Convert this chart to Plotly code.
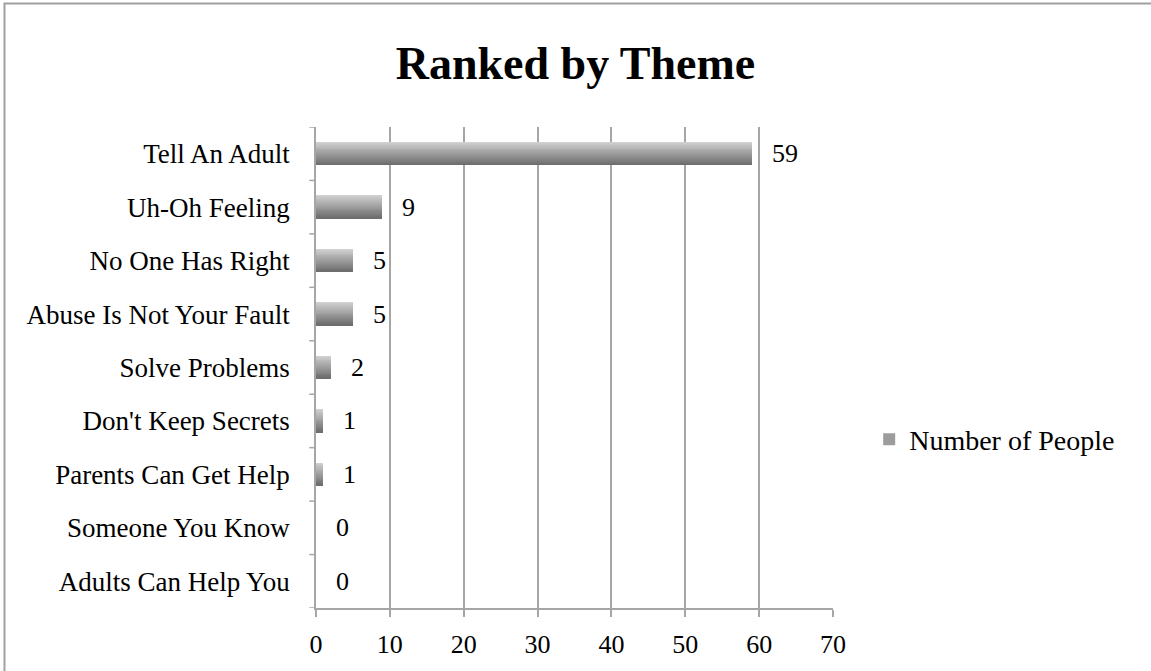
import plotly.graph_objects as go

categories = ["Tell An Adult", "Uh-Oh Feeling", "No One Has Right", "Abuse Is Not Your Fault",
              "Solve Problems", "Don't Keep Secrets", "Parents Can Get Help",
              "Someone You Know", "Adults Can Help You"]
values = [59, 9, 5, 5, 2, 1, 1, 0, 0]
series_name = "Number of People"
x_ticks = [0, 10, 20, 30, 40, 50, 60, 70]

FONT = "Liberation Serif"
W, H = 1151, 671
L, R, T, B = 316, 318, 127, 63
PW, PH = W - L - R, H - T - B

fig = go.Figure()

# gradient bands to imitate shaded bars
n = 24
bar_w = 0.42
light = (208, 208, 208)
dark = (110, 110, 110)
for i in range(n):
    t = i / (n - 1)
    c = tuple(int(light[k] + (dark[k] - light[k]) * t) for k in range(3))
    col = "rgb(%d,%d,%d)" % c
    fig.add_trace(go.Bar(
        x=values, y=list(range(len(categories))), orientation="h",
        width=bar_w / n * 1.05, offset=-bar_w / 2 + i * bar_w / n,
        marker=dict(color=col, line=dict(width=0)),
        name=series_name, showlegend=(i == n // 2), hoverinfo="skip",
    ))

for i, v in enumerate(values):
    fig.add_annotation(x=v, y=i, text=str(v), showarrow=False, xanchor="left",
                       xshift=18, font=dict(family=FONT, size=26, color="black"))

fig.update_layout(
    width=W, height=H,
    margin=dict(l=L, r=R, t=T, b=B),
    paper_bgcolor="white", plot_bgcolor="white",
    barmode="overlay", bargap=0,
    title=dict(text="<b>Ranked by Theme</b>", x=0.5, xanchor="center", y=0.907, yanchor="middle",
               font=dict(family=FONT, size=46, color="black")),
    font=dict(family=FONT, size=27, color="black"),
    legend=dict(x=1.07, y=0.35, xanchor="left", yanchor="middle",
                font=dict(family=FONT, size=28), itemwidth=30, tracegroupgap=0),
    showlegend=True,
)
fig.update_xaxes(range=[0, 70], tickvals=x_ticks, showgrid=True, gridcolor="#a6a6a6", gridwidth=1.5,
                 showline=True, linecolor="#a6a6a6", linewidth=1.5, ticks="outside", ticklen=7,
                 tickcolor="#a6a6a6", tickwidth=1.5, zeroline=False, tickfont=dict(size=26),
                 ticklabelstandoff=5)
fig.update_yaxes(range=[len(categories) - 0.5, -0.5], tickvals=list(range(len(categories))),
                 ticktext=categories, showgrid=False, showline=True, linecolor="#a6a6a6",
                 linewidth=1.5, ticks="", zeroline=False, tickfont=dict(size=27), ticklabelstandoff=19)

# y-axis tick marks at category boundaries
for b in [k - 0.5 for k in range(len(categories) + 1)]:
    fig.add_shape(type="line", xref="x domain", yref="y", x0=-0.013, x1=0, y0=b, y1=b,
                  line=dict(color="#a6a6a6", width=1.5))

# outer frame (top and left edges)
fx0 = (4.5 - L) / PW
fx1 = (W + 10 - L) / PW
fy0 = -(B + 10) / PH
fy1 = (H - 3.5 - B) / PH
fig.add_shape(type="path", xref="paper", yref="paper",
              path="M %f %f L %f %f L %f %f" % (fx0, fy0, fx0, fy1, fx1, fy1),
              line=dict(color="#a0a0a0", width=2))

fig.write_html("out.html", config={"displayModeBar": False},
               post_script="document.body.style.margin='0px';")
